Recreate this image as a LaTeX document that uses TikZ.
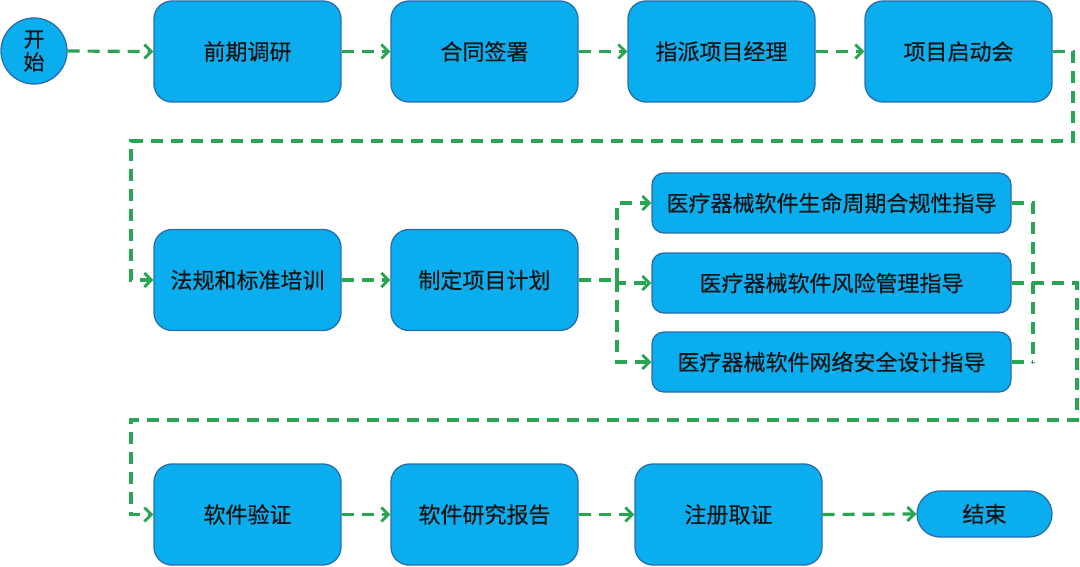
\documentclass[tikz,border=0pt]{standalone}
\usepackage{fontspec}
\setmainfont{Noto Sans CJK SC}[FakeBold=0.5]
\usetikzlibrary{arrows.meta}
\definecolor{boxfill}{HTML}{0AAEEE}
\definecolor{boxline}{HTML}{2A6DAE}
\definecolor{flowgreen}{HTML}{27A552}
\definecolor{txt}{HTML}{151515}
\begin{document}
\begin{tikzpicture}[x=1pt,y=-1pt,
  base/.style={draw=boxline,fill=boxfill,line width=1.3pt,text=txt,font=\fontsize{22}{24}\selectfont,inner sep=0pt,align=center},
  bigbox/.style={base,rounded corners=18pt,minimum width=187pt,minimum height=101pt},
  smallbox/.style={base,rounded corners=12pt,minimum width=359pt,minimum height=60pt},
  flow/.style={draw=flowgreen,line width=3.2pt,dash pattern=on 12pt off 8pt},
  arr/.style={flow,-{Straight Barb[length=7pt,width=14pt,line width=2.8pt]}}]
\useasboundingbox (0,0) rectangle (1080,567);
\fill[white] (0,0) rectangle (1080,567);
% nodes
\node[base,circle,minimum size=66pt,font=\fontsize{21}{23}\selectfont] (start) at (34,51) {开\\始};
\node[bigbox] (b1) at (247.5,51.5) {前期调研};
\node[bigbox] (b2) at (484.5,51.5) {合同签署};
\node[bigbox] (b3) at (721.5,51.5) {指派项目经理};
\node[bigbox] (b4) at (958.5,51.5) {项目启动会};
\node[bigbox] (b5) at (247.5,280) {法规和标准培训};
\node[bigbox] (b6) at (484.5,280) {制定项目计划};
\node[smallbox] (s1) at (831.5,203) {医疗器械软件生命周期合规性指导};
\node[smallbox] (s2) at (831.5,283) {医疗器械软件风险管理指导};
\node[smallbox] (s3) at (831.5,362) {医疗器械软件网络安全设计指导};
\node[bigbox] (b7) at (247.5,514.5) {软件验证};
\node[bigbox] (b8) at (484.5,514.5) {软件研究报告};
\node[bigbox] (b9) at (728.5,514.5) {注册取证};
\node[base,rounded corners=23pt,minimum width=135pt,minimum height=46pt] (end) at (984.5,514) {结束};
% coordinates
\coordinate (r1) at (1073,141);
\coordinate (l1) at (131,141);
\coordinate (sp) at (617,280);
\coordinate (mx) at (1033,362);
\coordinate (r2) at (1077,420);
\coordinate (l2) at (131,420);
% connectors
\draw[arr] (start.east) -- (b1.west);
\draw[arr] (b1.east) -- (b2.west);
\draw[arr] (b2.east) -- (b3.west);
\draw[arr] (b3.east) -- (b4.west);
\draw[arr] (b4.east) -| (r1) -- (l1) |- (b5.west);
\draw[arr] (b5.east) -- (b6.west);
\draw[flow] (b6.east) -- (sp);
\draw[arr] (sp) |- (s1.west);
\draw[arr] (sp) |- (s2.west);
\draw[arr] (sp) |- (s3.west);
\draw[flow] (s1.east) -| (mx);
\draw[flow] (s3.east) -- (mx);
\draw[arr] (s2.east) -| (r2) -- (l2) |- (b7.west);
\draw[arr] (b7.east) -- (b8.west);
\draw[arr] (b8.east) -- (b9.west);
\draw[arr] (b9.east) -- (end.west);
\end{tikzpicture}
\end{document}
